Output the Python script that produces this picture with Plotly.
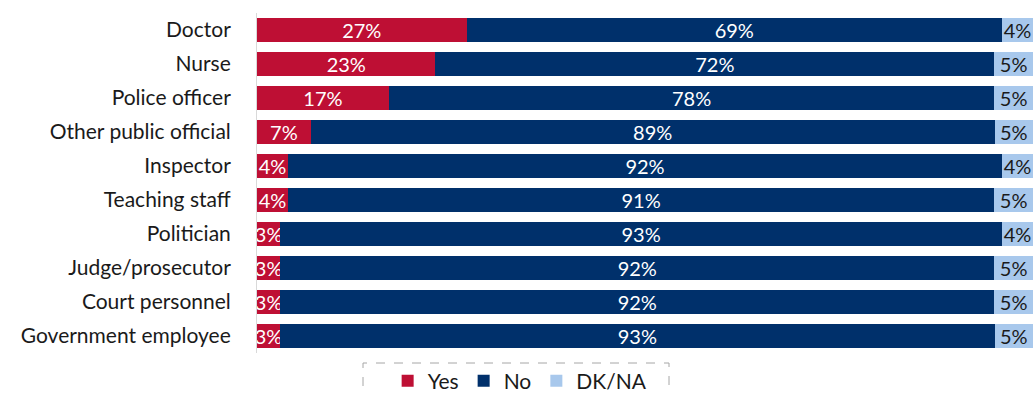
import plotly.graph_objects as go

categories = ["Doctor", "Nurse", "Police officer", "Other public official", "Inspector",
              "Teaching staff", "Politician", "Judge/prosecutor", "Court personnel",
              "Government employee"]
yes_vals = [27, 23, 17, 7, 4, 4, 3, 3, 3, 3]
no_vals = [69, 72, 78, 89, 92, 91, 93, 92, 92, 93]
dk_vals = [4, 5, 5, 5, 4, 5, 4, 5, 5, 5]

series = [
    ("Yes", yes_vals, "#BE0F34", "white"),
    ("No", no_vals, "#00306B", "white"),
    ("DK/NA", dk_vals, "#A8C8EC", "#1a1a1a"),
]

FONT = "Lato, 'Open Sans', sans-serif"

fig = go.Figure()
for name, vals, color, tcolor in series:
    fig.add_trace(go.Bar(
        name=name,
        y=categories,
        x=vals,
        orientation="h",
        marker=dict(color=color, line=dict(width=0)),
        text=[f"{v}%" for v in vals],
        textposition="inside",
        insidetextanchor="middle",
        textangle=0,
        textfont=dict(color=tcolor, size=20, family=FONT),
        cliponaxis=True,
        hoverinfo="skip",
    ))

fig.update_layout(
    barmode="stack",
    barnorm="percent",
    bargap=0.3,
    width=1036,
    height=393,
    autosize=False,
    margin=dict(l=257, r=3, t=13, b=40, autoexpand=False),
    plot_bgcolor="white",
    paper_bgcolor="white",
    font=dict(family=FONT, size=21, color="#1a1a1a"),
    uniformtext=dict(minsize=20, mode="show"),
    showlegend=True,
    legend=dict(
        orientation="h",
        xref="container", x=(363 + 669) / 2 / 1036 + 0.004, xanchor="center",
        yref="container", y=1 - 381 / 393, yanchor="middle",
        font=dict(size=21, family=FONT),
        bgcolor="rgba(0,0,0,0)",
        traceorder="normal",
        itemclick=False,
    ),
    shapes=[dict(
        type="rect", xref="paper", yref="paper",
        x0=(363 - 257) / 776, x1=(669 - 257) / 776,
        y0=-0.2, y1=-10 / 340,
        line=dict(color="#a6a6a6", width=1, dash="dash"),
        fillcolor="rgba(0,0,0,0)",
    )],
)
fig.update_xaxes(range=[0, 100], visible=False, fixedrange=True)
fig.update_yaxes(
    autorange="reversed",
    showline=True, linecolor="#d9d9d9", linewidth=1,
    ticks="", ticklabelstandoff=21,
    tickfont=dict(size=21, family=FONT, color="#1a1a1a"),
    showgrid=False, fixedrange=True,
)

fig.write_html("out.html")
